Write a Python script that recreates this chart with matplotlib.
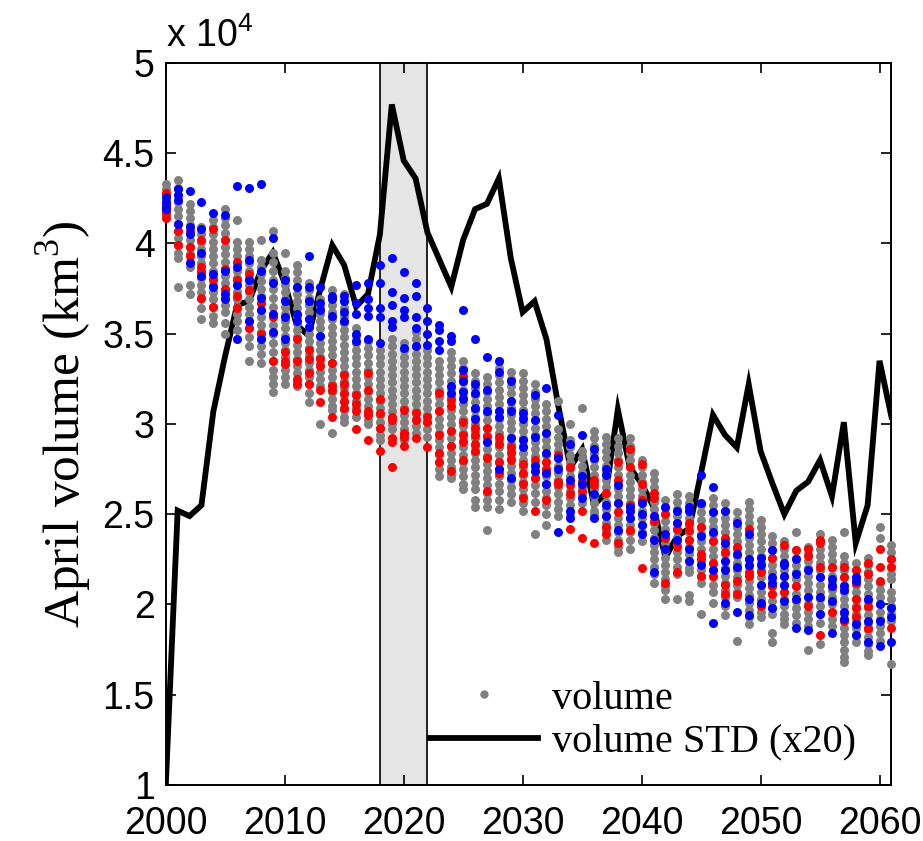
import numpy as np
import matplotlib
matplotlib.use('Agg')
from matplotlib import pyplot as plt
from matplotlib.lines import Line2D

plt.rcParams['mathtext.fontset'] = 'custom'
plt.rcParams['mathtext.rm'] = 'Liberation Serif'
plt.rcParams['mathtext.sf'] = 'Liberation Sans'

# years 2000..2061, values in units of 1e4 km^3
years = list(range(2000, 2062))

# black line: ensemble STD (x20)
std_vol = [1.00, 2.52, 2.49, 2.55, 3.07, 3.38, 3.66, 3.68, 3.85, 3.95,
           3.78, 3.55, 3.49, 3.75, 3.99, 3.88, 3.65, 3.72, 4.05, 4.77,
           4.46, 4.36, 4.06, 3.91, 3.76, 4.02, 4.19, 4.22, 4.36, 3.92,
           3.62, 3.68, 3.47, 3.10, 2.76, 2.86, 2.55, 2.62, 3.08, 2.76,
           2.67, 2.54, 2.26, 2.38, 2.42, 2.73, 3.05, 2.94, 2.87, 3.22,
           2.85, 2.67, 2.50, 2.63, 2.68, 2.80, 2.60, 3.01, 2.34, 2.55,
           3.35, 3.04]

# gray: all ensemble members
gray_vol = [
    [4.33, 4.30, 4.27, 4.24, 4.21, 4.18, 4.15],
    [4.35, 4.31, 4.27, 4.23, 4.19, 4.15, 4.11, 4.07, 4.03, 3.99, 3.95, 3.92, 3.76],
    [4.22, 4.18, 4.14, 4.10, 4.06, 4.02, 3.98, 3.94, 3.90, 3.87, 3.77, 3.72],
    [4.09, 4.05, 4.01, 3.97, 3.93, 3.89, 3.85, 3.81, 3.77, 3.73, 3.69, 3.64, 3.58],
    [4.13, 4.09, 4.05, 4.01, 3.97, 3.93, 3.89, 3.85, 3.81, 3.77, 3.73, 3.69, 3.65, 3.60, 3.56],
    [4.19, 4.14, 4.10, 4.06, 4.02, 3.98, 3.94, 3.90, 3.86, 3.82, 3.78, 3.74, 3.70, 3.66, 3.62, 3.56, 3.50],
    [4.13, 4.01, 3.97, 3.93, 3.89, 3.85, 3.81, 3.77, 3.73, 3.69, 3.65, 3.61, 3.57, 3.52],
    [4.01, 3.97, 3.93, 3.89, 3.85, 3.81, 3.77, 3.73, 3.69, 3.65, 3.61, 3.57, 3.53, 3.48, 3.43, 3.35],
    [4.02, 3.91, 3.87, 3.83, 3.79, 3.75, 3.71, 3.67, 3.63, 3.59, 3.55, 3.51, 3.47, 3.43, 3.39, 3.34],
    [4.07, 3.95, 3.90, 3.85, 3.80, 3.75, 3.70, 3.65, 3.60, 3.55, 3.50, 3.45, 3.40, 3.35, 3.30, 3.26, 3.22, 3.18],
    [3.95, 3.85, 3.81, 3.77, 3.73, 3.69, 3.65, 3.61, 3.57, 3.53, 3.49, 3.45, 3.41, 3.37, 3.33, 3.30, 3.26, 3.22],
    [3.88, 3.84, 3.80, 3.76, 3.72, 3.68, 3.64, 3.60, 3.56, 3.52, 3.48, 3.44, 3.40, 3.36, 3.32, 3.28, 3.24, 3.21],
    [3.78, 3.74, 3.70, 3.66, 3.62, 3.58, 3.54, 3.50, 3.46, 3.42, 3.38, 3.34, 3.30, 3.26, 3.22, 3.17, 3.12],
    [3.69, 3.65, 3.61, 3.57, 3.53, 3.49, 3.45, 3.41, 3.37, 3.33, 3.29, 3.25, 3.21, 3.00],
    [3.74, 3.70, 3.66, 3.62, 3.58, 3.54, 3.50, 3.46, 3.42, 3.38, 3.34, 3.30, 3.26, 3.22, 3.18, 3.14, 3.10, 3.08, 2.95],
    [3.72, 3.68, 3.64, 3.60, 3.56, 3.52, 3.48, 3.44, 3.40, 3.36, 3.32, 3.28, 3.24, 3.20, 3.16, 3.12, 3.08, 3.04, 3.01],
    [3.53, 3.49, 3.45, 3.41, 3.37, 3.33, 3.29, 3.25, 3.21, 3.17, 3.13, 3.09, 3.04],
    [3.46, 3.42, 3.38, 3.34, 3.30, 3.26, 3.22, 3.18, 3.14, 3.10, 3.06, 3.02, 3.00],
    [3.41, 3.37, 3.33, 3.29, 3.25, 3.21, 3.17, 3.13, 3.09, 3.05, 3.01, 2.97, 2.94, 2.91],
    [3.47, 3.43, 3.39, 3.35, 3.31, 3.27, 3.23, 3.19, 3.15, 3.11, 3.07, 3.03, 3.00, 2.97],
    [3.45, 3.41, 3.37, 3.33, 3.29, 3.25, 3.21, 3.17, 3.13, 3.09, 3.05, 3.01, 2.97, 2.94, 2.91],
    [3.51, 3.47, 3.43, 3.39, 3.35, 3.31, 3.27, 3.23, 3.19, 3.15, 3.11, 3.07, 3.03, 2.99, 2.95],
    [3.41, 3.37, 3.33, 3.29, 3.25, 3.21, 3.17, 3.13, 3.09, 3.05, 3.01, 2.97, 2.93],
    [3.35, 3.31, 3.27, 3.23, 3.19, 3.15, 3.11, 3.07, 3.03, 2.99, 2.95, 2.91, 2.87, 2.83, 2.79, 2.75, 2.71],
    [3.40, 3.36, 3.32, 3.28, 3.24, 3.20, 3.16, 3.12, 3.08, 3.04, 3.00, 2.96, 2.92, 2.88, 2.84, 2.80, 2.76, 2.72, 2.70],
    [3.35, 3.31, 3.27, 3.23, 3.19, 3.15, 3.11, 3.07, 3.03, 2.99, 2.95, 2.91, 2.87, 2.83, 2.79, 2.75, 2.71, 2.67, 2.64],
    [3.28, 3.24, 3.20, 3.16, 3.12, 3.08, 3.04, 3.00, 2.96, 2.92, 2.88, 2.84, 2.80, 2.76, 2.72, 2.68, 2.64, 2.58, 2.54],
    [3.26, 3.22, 3.18, 3.14, 3.10, 3.06, 3.02, 2.98, 2.94, 2.90, 2.86, 2.82, 2.78, 2.74, 2.70, 2.66, 2.62, 2.58, 2.54, 2.41],
    [3.35, 3.31, 3.27, 3.23, 3.19, 3.15, 3.11, 3.07, 3.03, 2.99, 2.95, 2.91, 2.87, 2.83, 2.79, 2.75, 2.71, 2.67, 2.63, 2.58, 2.53],
    [3.29, 3.25, 3.21, 3.17, 3.13, 3.09, 3.05, 3.01, 2.97, 2.93, 2.89, 2.85, 2.81, 2.77, 2.73, 2.69, 2.65, 2.61, 2.57],
    [3.28, 3.24, 3.20, 3.16, 3.12, 3.08, 3.04, 3.00, 2.96, 2.92, 2.88, 2.84, 2.80, 2.76, 2.72, 2.68, 2.64, 2.60, 2.56, 2.52],
    [3.22, 3.18, 3.14, 3.10, 3.06, 3.02, 2.98, 2.94, 2.90, 2.86, 2.82, 2.78, 2.74, 2.70, 2.66, 2.62, 2.57, 2.39],
    [3.11, 3.07, 3.03, 2.99, 2.95, 2.91, 2.87, 2.83, 2.79, 2.75, 2.71, 2.67, 2.63, 2.59, 2.55, 2.50, 2.44],
    [3.13, 2.97, 2.93, 2.89, 2.85, 2.81, 2.77, 2.73, 2.69, 2.65, 2.61, 2.57, 2.53, 2.49],
    [3.00, 2.91, 2.87, 2.83, 2.79, 2.75, 2.71, 2.67, 2.63, 2.59, 2.55, 2.50],
    [3.09, 2.85, 2.81, 2.77, 2.73, 2.69, 2.65, 2.61, 2.56],
    [2.96, 2.92, 2.88, 2.84, 2.80, 2.76, 2.72, 2.68, 2.64, 2.60, 2.56, 2.52, 2.50],
    [2.93, 2.89, 2.85, 2.81, 2.77, 2.73, 2.69, 2.65, 2.61, 2.57, 2.53, 2.49, 2.45, 2.41, 2.36],
    [2.92, 2.88, 2.84, 2.80, 2.76, 2.72, 2.68, 2.64, 2.60, 2.56, 2.52, 2.48, 2.44, 2.40, 2.36, 2.32, 2.29],
    [2.92, 2.88, 2.84, 2.80, 2.76, 2.72, 2.68, 2.64, 2.60, 2.56, 2.52, 2.48, 2.44, 2.40, 2.36, 2.31],
    [2.80, 2.76, 2.72, 2.68, 2.64, 2.60, 2.56, 2.52, 2.48, 2.44, 2.40, 2.35],
    [2.73, 2.69, 2.65, 2.61, 2.57, 2.53, 2.49, 2.45, 2.41, 2.37, 2.33, 2.29, 2.25, 2.21, 2.17, 2.12],
    [2.58, 2.54, 2.50, 2.46, 2.42, 2.38, 2.34, 2.30, 2.26, 2.22, 2.18, 2.14, 2.10, 2.08, 2.03],
    [2.61, 2.57, 2.53, 2.49, 2.45, 2.41, 2.37, 2.33, 2.29, 2.25, 2.21, 2.17, 2.03],
    [2.60, 2.56, 2.52, 2.48, 2.44, 2.40, 2.36, 2.32, 2.28, 2.24, 2.20, 2.18, 2.05, 2.02],
    [2.55, 2.51, 2.47, 2.43, 2.39, 2.35, 2.31, 2.27, 2.23, 2.19, 2.15, 2.12, 1.95],
    [2.59, 2.55, 2.51, 2.47, 2.43, 2.39, 2.35, 2.31, 2.27, 2.23, 2.19, 2.15, 2.11, 2.07, 2.01],
    [2.56, 2.52, 2.48, 2.44, 2.40, 2.36, 2.32, 2.28, 2.24, 2.20, 2.16, 2.12, 2.08, 2.04, 1.99, 1.94],
    [2.51, 2.47, 2.43, 2.39, 2.35, 2.31, 2.27, 2.23, 2.19, 2.15, 2.11, 2.07, 2.04, 1.80],
    [2.57, 2.53, 2.49, 2.45, 2.41, 2.37, 2.33, 2.29, 2.25, 2.21, 2.17, 2.13, 2.09, 2.05, 2.01, 1.97, 1.93, 1.89],
    [2.47, 2.43, 2.39, 2.35, 2.31, 2.27, 2.23, 2.19, 2.15, 2.11, 2.07, 2.03, 1.99, 1.96, 1.93],
    [2.38, 2.34, 2.30, 2.26, 2.22, 2.18, 2.14, 2.10, 2.06, 2.02, 1.98, 1.95, 1.84, 1.79],
    [2.35, 2.31, 2.27, 2.23, 2.19, 2.15, 2.11, 2.07, 2.03, 1.99, 1.95, 1.92, 1.89],
    [2.40, 2.30, 2.26, 2.22, 2.18, 2.14, 2.10, 2.06, 2.02, 1.98, 1.94, 1.90],
    [2.32, 2.28, 2.24, 2.20, 2.16, 2.12, 2.08, 2.04, 2.00, 1.96, 1.92, 1.88, 1.75],
    [2.39, 2.35, 2.31, 2.27, 2.23, 2.19, 2.15, 2.11, 2.07, 2.03, 1.99, 1.95, 1.90, 1.78],
    [2.36, 2.32, 2.28, 2.24, 2.20, 2.16, 2.12, 2.08, 2.04, 2.00, 1.96, 1.92, 1.88],
    [2.40, 2.27, 2.23, 2.19, 2.15, 2.11, 2.07, 2.03, 1.99, 1.95, 1.91, 1.87, 1.83, 1.79, 1.75, 1.71, 1.68],
    [2.23, 2.19, 2.15, 2.11, 2.07, 2.03, 1.99, 1.95, 1.91, 1.87, 1.83, 1.79],
    [2.26, 2.22, 2.18, 2.14, 2.10, 2.06, 2.02, 1.98, 1.94, 1.90, 1.86, 1.82, 1.78, 1.74, 1.72],
    [2.43, 2.37, 2.12, 2.08, 2.04, 2.00, 1.96, 1.92, 1.88, 1.84, 1.80],
    [2.33, 2.29, 2.25, 2.21, 2.17, 2.14, 2.07, 2.03, 1.99, 1.95, 1.91, 1.67],
]

# red members
red_vol = [
    [4.28, 4.22, 4.17, 4.14], [4.07, 3.99], [4.07, 3.98, 3.93], [4.02, 3.87, 3.84, 3.70],
    [4.08, 3.80, 3.65], [4.02, 3.86, 3.75], [3.90, 3.80, 3.71, 3.64], [3.83, 3.74, 3.53],
    [3.67, 3.50], [3.59, 3.35], [3.40, 3.35, 3.33], [3.47, 3.35, 3.25, 3.22],
    [3.41, 3.36, 3.28, 3.22], [3.36, 3.32, 3.19, 3.12], [3.34, 3.21, 3.19, 3.04],
    [3.27, 3.22, 3.17, 3.13, 3.09], [3.16, 3.11, 3.07, 2.97], [3.28, 3.19, 3.07, 3.05, 2.91],
    [3.14, 3.06, 2.98, 2.85], [3.04, 3.02, 2.92, 2.90, 2.76], [3.08, 2.95, 2.93, 2.88],
    [3.06, 3.02, 2.92], [3.04, 3.01, 2.87], [3.17, 3.07, 2.94, 2.84, 2.79],
    [3.14, 3.10, 2.96, 2.88, 2.74], [3.26, 3.01, 2.94, 2.90, 2.80], [2.98, 2.94, 2.89, 2.85],
    [2.98, 2.93, 2.81, 2.63], [2.93, 2.89, 2.79, 2.73], [2.87, 2.84, 2.80],
    [2.78, 2.73, 2.67, 2.59], [2.80, 2.70, 2.52], [2.79, 2.75, 2.58], [2.83, 2.68, 2.67],
    [2.76, 2.66, 2.61, 2.42], [2.68, 2.63, 2.52, 2.37], [2.69, 2.66, 2.34], [2.62, 2.43, 2.39],
    [2.79, 2.69, 2.51, 2.34], [2.86, 2.76, 2.55, 2.41], [2.78, 2.67, 2.58, 2.20],
    [2.62, 2.59, 2.46], [2.50, 2.37, 2.12], [2.42, 2.32, 2.18], [2.45, 2.41, 2.36],
    [2.43, 2.28, 2.25, 2.16], [2.35, 2.23, 2.16], [2.37, 2.29, 2.11, 2.06], [2.32, 2.13, 2.06],
    [2.42, 2.18, 2.16], [2.18, 1.99], [2.26, 2.10, 2.06], [2.33, 2.07], [2.30, 2.10],
    [2.31, 2.27, 1.99], [2.36, 2.34, 2.21, 1.83], [2.21, 2.10, 1.96], [2.21, 2.15, 1.91],
    [2.19, 2.12, 2.03, 1.98, 1.93], [2.23, 2.17, 1.99, 1.87], [2.31, 2.21, 2.13], [2.25, 2.21, 1.87],
]

# blue members
blue_vol = [
    [4.26, 4.23, 4.20, 4.19], [4.30, 4.27, 4.24, 4.11], [4.29, 4.09, 4.05, 3.89], [4.23, 4.08, 3.95, 3.82],
    [4.17, 3.83, 3.76], [4.16, 3.85, 3.72, 3.69], [4.32, 3.87, 3.77, 3.47], [4.31, 3.91, 3.80, 3.57],
    [4.33, 3.85, 3.70, 3.63, 3.47], [4.03, 3.78, 3.61, 3.51], [3.80, 3.68, 3.59, 3.47], [3.76, 3.61, 3.57],
    [3.93, 3.76, 3.68, 3.58, 3.54], [3.76, 3.67, 3.63, 3.49], [3.71, 3.69, 3.60], [3.71, 3.68, 3.62, 3.57],
    [3.77, 3.67, 3.61, 3.50, 3.46], [3.78, 3.69, 3.64, 3.60, 3.47], [3.88, 3.78, 3.64, 3.59, 3.45],
    [3.92, 3.73, 3.66, 3.57, 3.54], [3.84, 3.70, 3.63, 3.59, 3.42], [3.78, 3.71, 3.59, 3.53, 3.43],
    [3.64, 3.57, 3.50, 3.44], [3.55, 3.52, 3.46, 3.41], [3.49, 3.46, 3.21, 3.17],
    [3.63, 3.30, 3.24, 3.18, 3.14], [3.47, 3.22, 3.17, 3.09, 3.03], [3.37, 3.19, 3.07, 2.90],
    [3.35, 3.29, 3.07, 3.04, 2.75], [3.24, 3.13, 3.07, 2.92, 2.70], [3.06, 3.03, 2.91, 2.87],
    [3.16, 3.02, 2.93, 2.77, 2.74], [3.20, 2.95, 2.84, 2.73, 2.67], [3.05, 2.81, 2.75, 2.40],
    [2.89, 2.69, 2.52, 2.48], [2.94, 2.71, 2.67, 2.59], [2.86, 2.81, 2.61, 2.48], [2.75, 2.72, 2.55, 2.49],
    [2.66, 2.56, 2.41], [2.54, 2.52, 2.48], [2.56, 2.50, 2.44, 2.39], [2.49, 2.36, 2.18],
    [2.54, 2.39, 2.31], [2.52, 2.45, 2.36], [2.54, 2.52, 2.31, 2.24], [2.72, 2.56, 2.38, 2.22],
    [2.65, 2.51, 2.40, 2.19, 1.90], [2.52, 2.34, 2.24, 2.19, 2.01], [2.45, 2.28, 2.21, 1.96],
    [2.39, 2.25, 2.22, 2.03, 1.94], [2.26, 2.22, 2.11, 2.01], [2.30, 2.15, 2.12, 1.98],
    [2.23, 2.22, 2.16, 2.11, 2.02], [2.25, 2.17, 2.03, 1.87], [2.19, 2.04, 1.86], [2.15, 2.04, 1.95],
    [2.14, 2.10, 2.02, 1.84], [2.10, 2.08, 1.96, 1.92], [2.15, 2.13, 1.89, 1.83], [2.03, 1.91, 1.79],
    [2.00, 1.91, 1.77], [1.98, 1.93, 1.79],
]

# shaded period
shade_start, shade_end = 2018, 2022


def flatten(groups):
    xs, ys = [], []
    for yr, vals in zip(years, groups):
        xs += [yr] * len(vals)
        ys += vals
    return np.array(xs), np.array(ys) * 1e4


fig = plt.figure(figsize=(9.23, 8.41), dpi=100)
ax = fig.add_axes([0.1796, 0.0666, 0.7862, 0.8585])

ax.axvspan(shade_start, shade_end, facecolor='#e5e5e5', edgecolor='black',
           linewidth=1.2, zorder=0)

ax.plot(years, np.array(std_vol) * 1e4, color='black', lw=4.2, zorder=2,
        solid_joinstyle='miter')

ms = 42
gx, gy = flatten(gray_vol)
ax.scatter(gx, gy, s=ms, color='#808080', linewidths=0, zorder=3, clip_on=False)
rx, ry = flatten(red_vol)
ax.scatter(rx, ry, s=ms, color='#ff0000', linewidths=0, zorder=4, clip_on=False)
bx, by = flatten(blue_vol)
ax.scatter(bx, by, s=ms, color='#0000ff', linewidths=0, zorder=5, clip_on=False)

ax.set_xlim(2000, 2061)
ax.set_ylim(10000, 50000)
ax.set_xticks(range(2000, 2061, 10))
ax.set_yticks(np.arange(1, 5.01, 0.5) * 1e4)
ax.set_yticklabels(['1', '1.5', '2', '2.5', '3', '3.5', '4', '4.5', '5'])

tick_font = {'family': 'Liberation Sans', 'size': 27}
for lab in ax.get_xticklabels() + ax.get_yticklabels():
    lab.set_fontfamily('Liberation Sans')
    lab.set_fontsize(27)
ax.tick_params(direction='in', length=7, width=1.2, top=True, right=True)
ax.tick_params(axis='x', pad=15)
ax.tick_params(axis='y', pad=8)
for sp in ax.spines.values():
    sp.set_linewidth(1.4)

ax.text(0.0, 1.022, r'x 10$^{\mathsf{4}}$', transform=ax.transAxes,
        fontdict=tick_font, ha='left', va='baseline')

ax.set_ylabel(r'April volume (km$^3$)', family='Liberation Serif', fontsize=37,
              labelpad=6)

handles = [Line2D([], [], marker='o', ls='none', color='#808080', markersize=5),
           Line2D([], [], color='black', lw=4.2)]
ax.legend(handles, ['volume', 'volume STD (x20)'], loc='lower right',
          bbox_to_anchor=(0.985, 0.0), frameon=False,
          prop={'family': 'Liberation Serif', 'size': 29},
          handlelength=2.7, handletextpad=0.35, labelspacing=0.15,
          borderaxespad=0.2)

fig.savefig('out.png', dpi=100)
